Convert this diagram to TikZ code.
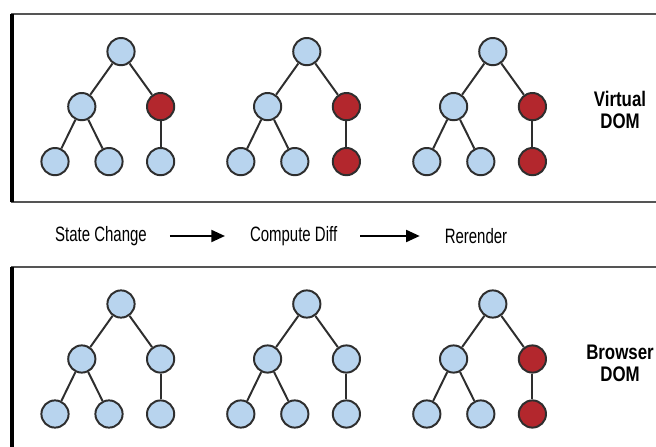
\documentclass[tikz,border=0pt]{standalone}
\usepackage{fontspec}
\setmainfont[FakeStretch=0.72]{Liberation Sans}
\newfontfamily\tagfont[FakeStretch=0.8]{Liberation Sans}
\usepackage{tikz}
\usetikzlibrary{arrows.meta}

\definecolor{nodeblue}{HTML}{B8D4EE}
\definecolor{nodered}{HTML}{B3272D}
\definecolor{edgegray}{HTML}{2E2E2E}
\definecolor{boxgray}{HTML}{555555}

\begin{document}
\begin{tikzpicture}[
  x=1cm, y=1cm,
  dom/.style={circle, draw=edgegray, line width=1.4pt, minimum size=0.68cm, inner sep=0pt, fill=nodeblue},
  link/.style={draw=edgegray, line width=1.4pt},
  panel/.style={draw=boxgray, line width=1.4pt},
  edge/.style={draw=black, line width=2.8pt},
  steplabel/.style={font=\fontsize{14.8}{16}\selectfont, inner sep=0pt},
  tag/.style={font=\tagfont\fontsize{15}{15.6}\selectfont\bfseries, align=center},
  flow/.style={-{Triangle[length=3.4mm, width=3mm]}, line width=1.4pt, shorten <=0.57cm, shorten >=0.62cm}
]
\useasboundingbox (0,0) rectangle (16.4,-11.175);
\clip (0,0) rectangle (16.4,-11.175);

% panels (open on the right / bottom)
\draw[panel] (0.3,-0.35) rectangle (17,-5.05);
\draw[edge] (0.3,-0.35) -- (0.3,-5.05);
\draw[panel] (0.3,-6.675) rectangle (17,-12);
\draw[edge] (0.3,-6.675) -- (0.3,-12);

% trees: name / x / y / right child / its leaf
\foreach \t/\tx/\ty/\rc/\rrc in {
    v1/3.025/-1.29/nodered/nodeblue,
    v2/7.67/-1.29/nodered/nodered,
    v3/12.32/-1.29/nodered/nodered,
    b1/3.025/-7.6/nodeblue/nodeblue,
    b2/7.67/-7.6/nodeblue/nodeblue,
    b3/12.32/-7.6/nodered/nodered}{
  \begin{scope}[shift={(\tx,\ty)}]
    \node[dom] (\t-root) at (0,0) {};
    \node[dom] (\t-l) at (-0.98,-1.375) {};
    \node[dom, fill=\rc] (\t-r) at (0.99,-1.375) {};
    \node[dom] (\t-ll) at (-1.65,-2.75) {};
    \node[dom] (\t-lr) at (-0.3,-2.75) {};
    \node[dom, fill=\rrc] (\t-rr) at (0.99,-2.75) {};
    \draw[link] (\t-root) -- (\t-l);
    \draw[link] (\t-root) -- (\t-r);
    \draw[link] (\t-l) -- (\t-ll);
    \draw[link] (\t-l) -- (\t-lr);
    \draw[link] (\t-r) -- (\t-rr);
  \end{scope}
}

\node[tag] (vdom) at (15.5,-2.75) {Virtual\\DOM};
\node[tag] (bdom) at (15.5,-9.09) {Browser\\DOM};

% update steps
\node[steplabel] (state) at (2.525,-5.9) {State Change};
\node[steplabel] (diff) at (7.34,-5.9) {Compute Diff};
\node[steplabel] (render) at (11.9,-5.9) {Rerender};

\draw[flow] (state.east) -- (diff.west);
\draw[flow] (diff.east) -- (render.west);
\end{tikzpicture}
\end{document}
